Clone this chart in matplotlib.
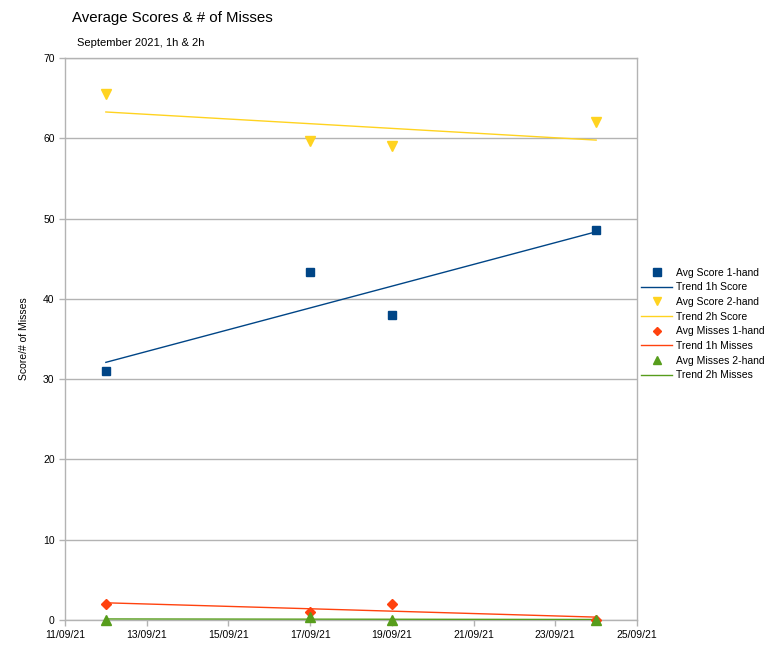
import matplotlib
matplotlib.use("Agg")
import matplotlib.pyplot as plt
import matplotlib.dates as mdates
import numpy as np
import datetime as dt

plt.rcParams['font.family'] = ['Liberation Sans', 'DejaVu Sans']

dates = ["2021-09-12", "2021-09-17", "2021-09-19", "2021-09-24"]
score_1h = [31.0, 43.3, 38.0, 48.6]
score_2h = [65.5, 59.6, 59.0, 62.0]
misses_1h = [2, 1, 2, 0]
misses_2h = [0, 0.4, 0, 0]

series_names = ["Avg Score 1-hand", "Avg Score 2-hand", "Avg Misses 1-hand", "Avg Misses 2-hand"]
trend_names = ["Trend 1h Score", "Trend 2h Score", "Trend 1h Misses", "Trend 2h Misses"]
colors = ["#004586", "#ffd320", "#ff420e", "#579d1c"]
markers = ["s", "v", "D", "^"]
msizes = [6, 6.5, 4.6, 6.5]

d = [dt.datetime.strptime(s, "%Y-%m-%d") for s in dates]
xn = mdates.date2num(d)

fig = plt.figure(figsize=(7.72, 6.48), dpi=100)
ax = fig.add_axes([65/772, 1-620/648, (637-65)/772, (620-58)/648])

handles = []
labels = []
for vals, name, tname, c, m, ms in zip([score_1h, score_2h, misses_1h, misses_2h],
                                     series_names, trend_names, colors, markers, msizes):
    h1, = ax.plot(xn, vals, linestyle='none', marker=m, color=c, markersize=ms,
                  zorder=4, clip_on=False)
    k, b = np.polyfit(xn, vals, 1)
    xs = np.array([xn[0], xn[-1]])
    h2, = ax.plot(xs, k*xs + b, color=c, linewidth=1, zorder=3)
    handles += [h1, h2]
    labels += [name, tname]

ax.set_xlim(mdates.date2num(dt.datetime(2021, 9, 11)), mdates.date2num(dt.datetime(2021, 9, 25)))
ax.set_ylim(0, 70)
ax.set_yticks(range(0, 71, 10))
ax.xaxis.set_major_locator(mdates.DayLocator(interval=2))
ax.xaxis.set_major_formatter(mdates.DateFormatter("%d/%m/%y"))
ax.grid(axis='y', color='#b3b3b3', linewidth=1)
for s in ax.spines.values():
    s.set_color('#b3b3b3')
    s.set_linewidth(1)
ax.tick_params(colors='#b3b3b3', labelcolor='black', labelsize=7.5, length=4, width=1)
ax.set_axisbelow(True)
ax.set_ylabel("Score/# of Misses", fontsize=7.5)
ax.yaxis.set_label_coords(-36/572, 0.5)

fig.text(72/772, 1-18/648, "Average Scores & # of Misses", fontsize=10.8, va='center', ha='left')
fig.text(77/772, 1-43/648, "September 2021, 1h & 2h", fontsize=8, va='center', ha='left')

fig.legend(handles, labels, loc='center left', bbox_to_anchor=(637/772, 1-324/648),
           frameon=False, fontsize=7.5, handlelength=3.0, handletextpad=0.3,
           labelspacing=0.45, borderaxespad=0, markerscale=0.85)

fig.savefig("out.png", dpi=100)
